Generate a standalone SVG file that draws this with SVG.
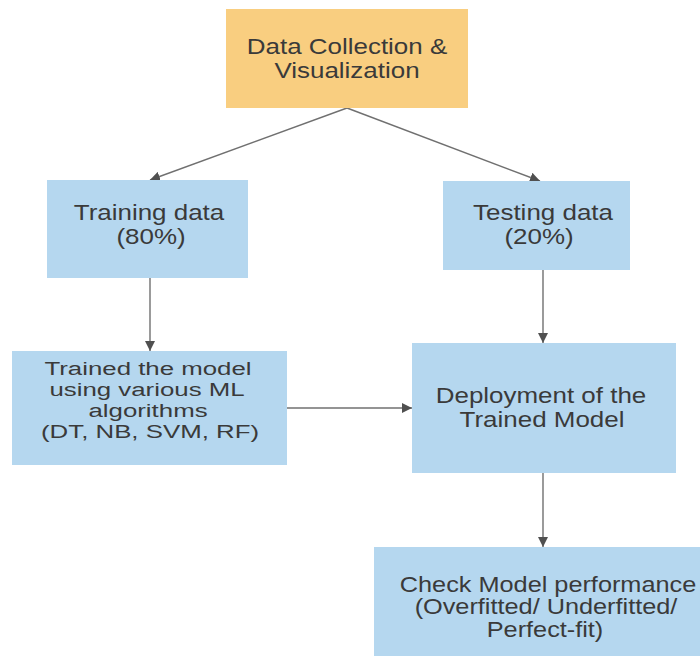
<svg xmlns="http://www.w3.org/2000/svg" width="700" height="656" viewBox="0 0 700 656">
<style>
.box{fill:#B5D7EF;stroke:none}
.top{fill:#F9CE80;stroke:none}
.t{font-family:"Liberation Sans",Arial,sans-serif;font-size:22px;fill:#3a3a3a;text-anchor:middle}
.s{font-size:19px}
.c{stroke:#707070;stroke-width:1.4;fill:none;marker-end:url(#ah)}
</style>
<defs>
<marker id="ah" viewBox="0 0 10 10" refX="10" refY="5" markerWidth="10" markerHeight="10" markerUnits="userSpaceOnUse" orient="auto">
<path d="M0,0 L10,5 L0,10 Z" fill="#505050"/>
</marker>
</defs>
<rect width="700" height="656" fill="#ffffff"/>
<g id="connectors">
<line class="c" x1="347" y1="108" x2="150" y2="180"/>
<line class="c" x1="347" y1="108" x2="540" y2="181"/>
<line class="c" x1="150" y1="278" x2="150" y2="351"/>
<line class="c" x1="543" y1="270" x2="543" y2="343"/>
<line class="c" x1="287" y1="408" x2="412" y2="408"/>
<line class="c" x1="543" y1="473" x2="543" y2="547"/>
</g>
<g id="data-collection">
<rect class="top" x="226" y="9" width="242" height="99"/>
<text class="t" transform="translate(347,54) scale(1.18,1)">Data Collection &amp;</text>
<text class="t" transform="translate(347,78) scale(1.18,1)">Visualization</text>
</g>
<g id="training-data">
<rect class="box" x="47" y="180" width="201" height="98"/>
<text class="t" transform="translate(149,220) scale(1.18,1)">Training data</text>
<text class="t" transform="translate(151,244) scale(1.18,1)">(80%)</text>
</g>
<g id="testing-data">
<rect class="box" x="443" y="181" width="187" height="89"/>
<text class="t" transform="translate(543,220) scale(1.18,1)">Testing data</text>
<text class="t" transform="translate(539,244) scale(1.18,1)">(20%)</text>
</g>
<g id="trained-model">
<rect class="box" x="12" y="351" width="275" height="114"/>
<text class="t s" transform="translate(148,375) scale(1.36,1)">Trained the model</text>
<text class="t s" transform="translate(147,396) scale(1.36,1)">using various ML</text>
<text class="t s" transform="translate(148,417) scale(1.36,1)">algorithms</text>
<text class="t s" transform="translate(150,438) scale(1.36,1)">(DT, NB, SVM, RF)</text>
</g>
<g id="deployment">
<rect class="box" x="412" y="343" width="264" height="130"/>
<text class="t" transform="translate(541,403) scale(1.18,1)">Deployment of the</text>
<text class="t" transform="translate(542,427) scale(1.18,1)">Trained Model</text>
</g>
<g id="check-performance">
<rect class="box" x="374" y="547" width="326" height="109"/>
<text class="t" transform="translate(548,592) scale(1.15,1)">Check Model performance</text>
<text class="t" transform="translate(546,614) scale(1.15,1)">(Overfitted/ Underfitted/</text>
<text class="t" transform="translate(545,637) scale(1.15,1)">Perfect-fit)</text>
</g>
</svg>
